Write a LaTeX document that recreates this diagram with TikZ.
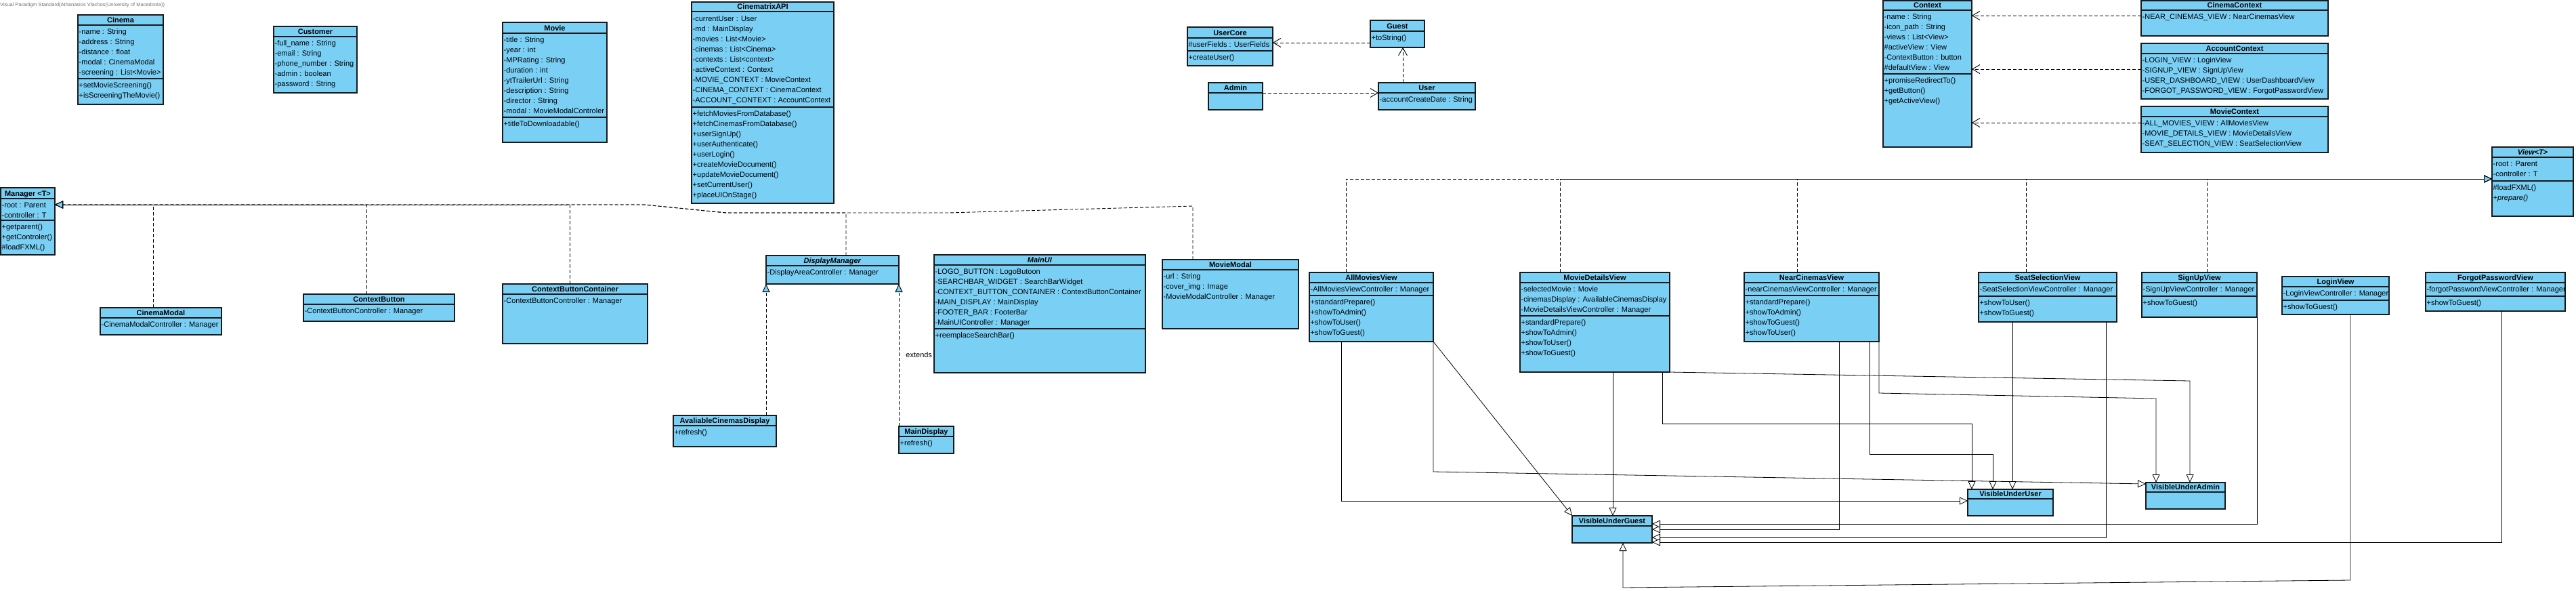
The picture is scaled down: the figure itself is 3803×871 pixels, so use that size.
\documentclass[tikz,border=0pt]{standalone}
\usepackage{fontspec}
\setmainfont{Liberation Sans}
\usetikzlibrary{arrows.meta}
\definecolor{vp}{RGB}{122,207,245}
\newcommand{\fs}{\fontsize{11}{15}\selectfont}
\newcommand{\fsb}{\fontsize{11}{15}\selectfont\bfseries}
\tikzset{
  box/.style={draw=black!90, line width=1.2pt, fill=vp, inner sep=0pt, outer sep=0pt},
  hl/.style={draw=black!90, line width=1.1pt},
  ttl/.style={font=\fsb, inner sep=0pt},
  rows/.style={font=\fs, align=left, inner sep=0pt, anchor=north west},
  lbl/.style={font=\fs, inner sep=0pt},
  dsh/.style={line width=0.9pt, dash pattern=on 5pt off 3pt},
  dep/.style={dsh, -{Straight Barb[length=11pt,width=13pt,line width=0.9pt]}},
  real/.style={dsh, -{Triangle[length=12pt,width=11pt,fill=vp,line width=0.9pt]}},
  gen/.style={line width=0.8pt, -{Triangle[length=12pt,width=11pt,fill=white,line width=0.8pt]}}
}
\newcommand{\umlbox}[7]{%
  \node[box, anchor=north west, minimum width={(#4-#2)*1pt}, minimum height={(#5-#3)*1pt}] (#1) at (#2,#3) {};
  \draw[hl] (#2,#6) -- (#4,#6);
  \node[ttl, anchor=base] (#1-t) at ({(#2+#4)/2},{#6-3.5}) {#7};
}
\newcommand{\usep}[3]{\draw[hl] (#1,#3) -- (#2,#3);}
\begin{document}
\begin{tikzpicture}[x=1pt,y=-1pt]
\useasboundingbox (0,0) rectangle (3803,871);
\fill[white] (0,0) rectangle (3803,871);

\node[anchor=west, inner sep=0pt, font=\fontsize{7.5}{9}\selectfont, text=black!55] (wm) at (0,8) {Visual Paradigm Standard(Athanasios Vlachos(University of Macedonia))};

% ---------- top row ----------
\umlbox{cinema}{115}{22}{241}{154}{37}{Cinema}
\node[rows] (cinema-a) at (116.5,40) {\strut-name : String\\-address : String\\-distance : float\\-modal : CinemaModal\\-screening : List<Movie>};
\usep{115}{241}{116}
\node[rows] (cinema-m) at (116.5,119) {\strut+setMovieScreening()\\+isScreeningTheMovie()};

\umlbox{customer}{404}{39}{527}{137}{54}{Customer}
\node[rows] (customer-a) at (405.5,57) {\strut-full\_name : String\\-email : String\\-phone\_number : String\\-admin : boolean\\-password : String};

\umlbox{movie}{742}{33}{896}{210}{49}{Movie}
\node[rows] (movie-a) at (743.5,52) {\strut-title : String\\-year : int\\-MPRating : String\\-duration : int\\-ytTrailerUrl : String\\-description : String\\-director : String\\-modal : MovieModalControler};
\usep{742}{896}{173}
\node[rows] (movie-m) at (743.5,176) {\strut+titleToDownloadable()};

\umlbox{api}{1021}{3}{1231}{300}{17}{CinematrixAPI}
\node[rows] (api-a) at (1022.5,20.5) {\strut-currentUser : User\\-md : MainDisplay\\-movies : List<Movie>\\-cinemas : List<Cinema>\\-contexts : List<context>\\-activeContext : Context\\-MOVIE\_CONTEXT : MovieContext\\-CINEMA\_CONTEXT : CinemaContext\\-ACCOUNT\_CONTEXT : AccountContext};
\usep{1021}{1231}{158}
\node[rows] (api-m) at (1022.5,161) {\strut+fetchMoviesFromDatabase()\\+fetchCinemasFromDatabase()\\+userSignUp()\\+userAuthenticate()\\+userLogin()\\+createMovieDocument()\\+updateMovieDocument()\\+setCurrentUser()\\+placeUIOnStage()};

\umlbox{ucore}{1753}{40}{1879}{97}{56}{UserCore}
\node[rows] (ucore-a) at (1754.5,59) {\strut\#userFields : UserFields};
\usep{1753}{1879}{75}
\node[rows] (ucore-m) at (1754.5,78) {\strut+createUser()};

\umlbox{guest}{2023}{30}{2103}{70}{46}{Guest}
\node[rows] (guest-m) at (2024.5,49) {\strut+toString()};

\umlbox{admin}{1784}{122}{1864}{162}{137}{Admin}

\umlbox{user}{2035}{122}{2178}{162}{137}{User}
\node[rows] (user-a) at (2036.5,140) {\strut-accountCreateDate : String};

\umlbox{ctx}{2780}{1}{2911}{217}{15}{Context}
\node[rows] (ctx-a) at (2781.5,18) {\strut-name : String\\-icon\_path : String\\-views : List<View>\\\#activeView : View\\-ContextButton : button\\\#defaultView : View};
\usep{2780}{2911}{109}
\node[rows] (ctx-m) at (2781.5,112) {\strut+promiseRedirectTo()\\+getButton()\\+getActiveView()};

\umlbox{cc}{3161}{1}{3437}{53}{15}{CinemaContext}
\node[rows] (cc-a) at (3162.5,18) {\strut-NEAR\_CINEMAS\_VIEW : NearCinemasView};

\umlbox{ac}{3161}{64}{3437}{146}{79}{AccountContext}
\node[rows] (ac-a) at (3162.5,82) {\strut-LOGIN\_VIEW : LoginView\\-SIGNUP\_VIEW : SignUpView\\-USER\_DASHBOARD\_VIEW : UserDashboardView\\-FORGOT\_PASSWORD\_VIEW : ForgotPasswordView};

\umlbox{mc}{3161}{157}{3437}{225}{172}{MovieContext}
\node[rows] (mc-a) at (3162.5,175) {\strut-ALL\_MOVIES\_VIEW : AllMoviesView\\-MOVIE\_DETAILS\_VIEW : MovieDetailsView\\-SEAT\_SELECTION\_VIEW : SeatSelectionView};

\umlbox{view}{3679}{217}{3799}{319}{232}{\textit{View<T>}}
\node[rows] (view-a) at (3680.5,235) {\strut-root : Parent\\-controller : T};
\usep{3679}{3799}{267}
\node[rows] (view-m) at (3680.5,270) {\strut\#loadFXML()\\\textit{+prepare()}};

% ---------- middle row ----------
\umlbox{mgr}{1}{277}{81}{376}{293}{Manager <T>}
\node[rows] (mgr-a) at (2.5,296) {\strut-root : Parent\\-controller : T};
\usep{1}{81}{325}
\node[rows] (mgr-m) at (2.5,328) {\strut+getparent()\\+getControler()\\\#loadFXML()};

\umlbox{cmodal}{148}{454}{327}{494}{469}{CinemaModal}
\node[rows] (cmodal-a) at (149.5,472) {\strut-CinemaModalController : Manager};

\umlbox{ctxb}{448}{434}{671}{474}{449}{ContextButton}
\node[rows] (ctxb-a) at (449.5,452) {\strut-ContextButtonController : Manager};

\umlbox{ctxbc}{742}{419}{956}{507}{434}{ContextButtonContainer}
\node[rows] (ctxbc-a) at (743.5,437) {\strut-ContextButtonController : Manager};

\umlbox{dm}{1131}{377}{1327}{419}{392}{\textit{DisplayManager}}
\node[rows] (dm-a) at (1132.5,395) {\strut-DisplayAreaController : Manager};

\umlbox{mainui}{1379}{376}{1691}{550}{391}{\textit{MainUI}}
\node[rows] (mainui-a) at (1380.5,394) {\strut-LOGO\_BUTTON : LogoButoon\\-SEARCHBAR\_WIDGET : SearchBarWidget\\-CONTEXT\_BUTTON\_CONTAINER : ContextButtonContainer\\-MAIN\_DISPLAY : MainDisplay\\-FOOTER\_BAR : FooterBar\\-MainUIController : Manager};
\usep{1379}{1691}{485}
\node[rows] (mainui-m) at (1380.5,488) {\strut+reemplaceSearchBar()};

\umlbox{mm}{1716}{383}{1917}{485}{398}{MovieModal}
\node[rows] (mm-a) at (1717.5,401) {\strut-url : String\\-cover\_img : Image\\-MovieModalController : Manager};

\umlbox{acd}{994}{613}{1146}{659}{628}{AvaliableCinemasDisplay}
\node[rows] (acd-m) at (995.5,631) {\strut+refresh()};

\umlbox{mdisp}{1327}{629}{1408}{669}{644}{MainDisplay}
\node[rows] (mdisp-m) at (1328.5,647) {\strut+refresh()};

% ---------- views ----------
\umlbox{amv}{1933}{402}{2116}{504}{417}{AllMoviesView}
\node[rows] (amv-a) at (1934.5,420) {\strut-AllMoviesViewController : Manager};
\usep{1933}{2116}{436}
\node[rows] (amv-m) at (1934.5,439) {\strut+standardPrepare()\\+showToAdmin()\\+showToUser()\\+showToGuest()};

\umlbox{mdv}{2244}{402}{2465}{549}{417}{MovieDetailsView}
\node[rows] (mdv-a) at (2245.5,420) {\strut-selectedMovie : Movie\\-cinemasDisplay : AvailableCinemasDisplay\\-MovieDetailsViewController : Manager};
\usep{2244}{2465}{466}
\node[rows] (mdv-m) at (2245.5,469) {\strut+standardPrepare()\\+showToAdmin()\\+showToUser()\\+showToGuest()};

\umlbox{ncv}{2575}{402}{2774}{504}{417}{NearCinemasView}
\node[rows] (ncv-a) at (2576.5,420) {\strut-nearCinemasViewController : Manager};
\usep{2575}{2774}{436}
\node[rows] (ncv-m) at (2576.5,439) {\strut+standardPrepare()\\+showToAdmin()\\+showToGuest()\\+showToUser()};

\umlbox{ssv}{2921}{402}{3125}{475}{417}{SeatSelectionView}
\node[rows] (ssv-a) at (2922.5,420) {\strut-SeatSelectionViewController : Manager};
\usep{2921}{3125}{437}
\node[rows] (ssv-m) at (2922.5,440) {\strut+showToUser()\\+showToGuest()};

\umlbox{suv}{3162}{402}{3332}{468}{417}{SignUpView}
\node[rows] (suv-a) at (3163.5,420) {\strut-SignUpViewController : Manager};
\usep{3162}{3332}{437}
\node[rows] (suv-m) at (3163.5,440) {\strut+showToGuest()};

\umlbox{lgv}{3369}{408}{3527}{464}{423}{LoginView}
\node[rows] (lgv-a) at (3370.5,426) {\strut-LoginViewController : Manager};
\usep{3369}{3527}{443}
\node[rows] (lgv-m) at (3370.5,446) {\strut+showToGuest()};

\umlbox{fpv}{3581}{402}{3787}{459}{417}{ForgotPasswordView}
\node[rows] (fpv-a) at (3582.5,420) {\strut-forgotPasswordViewController : Manager};
\usep{3581}{3787}{437}
\node[rows] (fpv-m) at (3582.5,440) {\strut+showToGuest()};

\umlbox{vug}{2321}{761}{2439}{801}{776}{VisibleUnderGuest}
\umlbox{vuu}{2905}{722}{3031}{761}{736}{VisibleUnderUser}
\umlbox{vua}{3168}{712}{3285}{751}{726}{VisibleUnderAdmin}

% ---------- Manager realizations ----------
\coordinate (mtip) at ([yshift=-25pt]mgr.north east);
\coordinate (mk1) at (951,302);
\coordinate (mk2) at (1072,314);
\coordinate (mk3) at (1400,314);
\draw[real] ([xshift=78pt]cmodal.north west) |- (mtip);
\draw[real] ([xshift=93pt]ctxb.north west) |- (mtip);
\draw[real] ([xshift=99pt]ctxbc.north west) |- (mtip);
\draw[real] ([xshift=118pt]dm.north west) -- ++(0,-63) -- (mk2) -- (mk1) -- (mtip);
\draw[real] ([xshift=45pt]mm.north west) -- ++(0,-79) -- (mk3) -- (mk2) -- (mk1) -- (mtip);

% ---------- DisplayManager realizations ----------
\draw[real] ([xshift=137pt]acd.north west) -- (dm.south west);
\draw[real] (mdisp.north west) -- node[lbl, pos=0.5, anchor=west, xshift=10pt] (ext) {extends} (dm.south east);

% ---------- View realizations ----------
\coordinate (vtip) at ([yshift=-47pt]view.north west);
\draw[real] ([xshift=54pt]amv.north west) |- (vtip);
\draw[real] ([xshift=59pt]mdv.north west) |- (vtip);
\draw[real] ([xshift=78pt]ncv.north west) |- (vtip);
\draw[real] ([xshift=70pt]ssv.north west) |- (vtip);
\draw[real] ([xshift=96pt]suv.north west) |- (vtip);

% ---------- Context dependencies ----------
\coordinate (d1) at ([yshift=-22pt]cc.north west);
\coordinate (d2) at ([yshift=-38pt]ac.north west);
\coordinate (d3) at ([yshift=-24pt]mc.north west);
\draw[dep] (d1) -- (d1 -| ctx.east);
\draw[dep] (d2) -- (d2 -| ctx.east);
\draw[dep] (d3) -- (d3 -| ctx.east);

% ---------- user dependencies ----------
\coordinate (g1) at ([yshift=-33pt]guest.north west);
\draw[dep] (g1) -- (g1 -| ucore.east);
\coordinate (u1) at ([xshift=36pt]user.north west);
\draw[dep] (u1) -- (u1 |- guest.south);
\coordinate (a1) at ([yshift=-15pt]admin.north east);
\draw[dep] (a1) -- (a1 -| user.west);

% ---------- Visible generalizations ----------
\draw[gen] ([xshift=47pt]amv.south west) |- ([yshift=-17pt]vuu.north west);
\draw[gen] (amv.south east) -- ++(0,192) -- ([yshift=-2pt]vua.north west);
\draw[gen] (amv.south east) -- (vug.north west);

\coordinate (b1) at ([xshift=137pt]mdv.south west);
\draw[gen] (b1) -- (b1 |- vug.north);
\draw[gen] ([xshift=210pt]mdv.south west) -- ++(0,76) -| ([xshift=6pt]vuu.north west);
\draw[gen] (mdv.south east) -- ++(768,13) -- ([xshift=65pt]vua.north west);

\draw[gen] ([xshift=140pt]ncv.south west) |- ([yshift=-20pt]vug.north east);
\draw[gen] ([xshift=185pt]ncv.south west) -- ++(0,166) -| ([xshift=37pt]vuu.north west);
\draw[gen] (ncv.south east) -- ++(0,76) -- ++(409,8) -- ([xshift=15pt]vua.north west);

\draw[gen] ([xshift=50pt]ssv.south west) -- ([xshift=66pt]vuu.north west);
\draw[gen] ([xshift=188pt]ssv.south west) |- ([yshift=-32pt]vug.north east);

\draw[gen] (suv.south east) |- ([yshift=-12pt]vug.north east);

\draw[gen] ([xshift=101pt]lgv.south west) -- ++(0,392) -- ++(-1074,11) -- ([xshift=75pt]vug.south west);

\draw[gen] ([xshift=112pt]fpv.south west) |- ([yshift=-39pt]vug.north east);
\end{tikzpicture}
\end{document}
